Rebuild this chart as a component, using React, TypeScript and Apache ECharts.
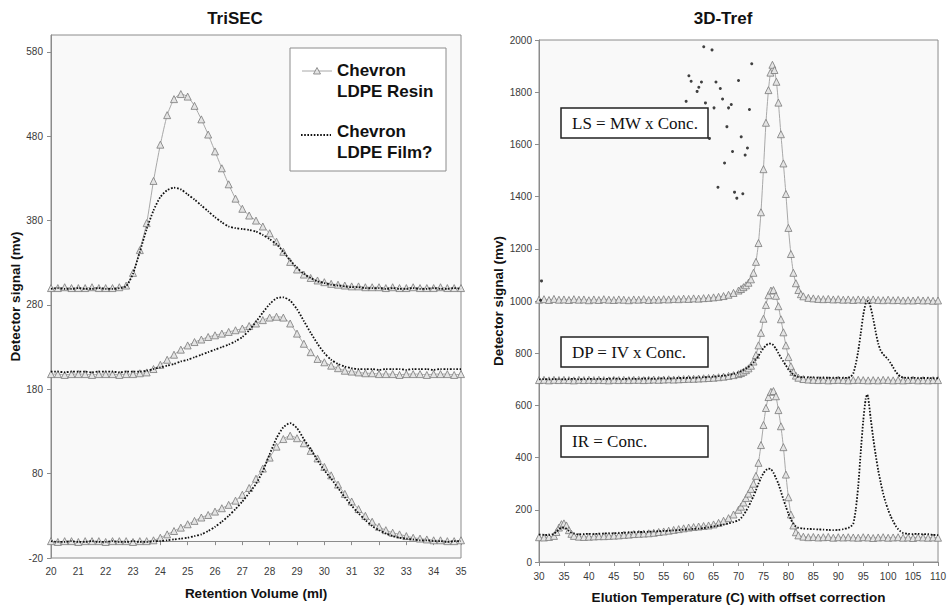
import React, { useEffect, useRef } from 'react';
import * as echarts from 'echarts';

// ---------- TriSEC (left) ----------
const secX = [20, 20.25, 20.5, 20.75, 21, 21.25, 21.5, 21.75, 22, 22.25, 22.5, 22.75, 23, 23.25, 23.5, 23.75, 24, 24.25, 24.5, 24.75, 25, 25.25, 25.5, 25.75, 26, 26.25, 26.5, 26.75, 27, 27.25, 27.5, 27.75, 28, 28.25, 28.5, 28.75, 29, 29.25, 29.5, 29.75, 30, 30.25, 30.5, 30.75, 31, 31.25, 31.5, 31.75, 32, 32.25, 32.5, 32.75, 33, 33.25, 33.5, 33.75, 34, 34.25, 34.5, 34.75, 35];

const resinTop = [300, 300, 301, 300, 300, 300, 301, 300, 300, 300, 301, 303, 318, 345, 377, 427, 470, 505, 524, 530, 527, 516, 500, 482, 462, 442, 423, 406, 394, 386, 380, 373, 365, 355, 343, 331, 322, 316, 312, 309, 307, 305, 304, 303, 302, 302, 301, 301, 301, 300, 301, 300, 300, 301, 300, 300, 300, 301, 300, 300, 300];
const filmTop = [299, 300, 299, 299, 300, 299, 299, 300, 299, 299, 300, 302, 317, 343, 370, 392, 408, 416, 419, 417, 411, 405, 398, 391, 384, 378, 373, 371, 370, 369, 367, 363, 358, 352, 343, 333, 324, 317, 312, 308, 306, 304, 303, 302, 301, 301, 300, 300, 300, 299, 300, 299, 299, 300, 299, 299, 300, 299, 299, 300, 299];
const resinMid = [198, 198, 197, 198, 198, 198, 197, 198, 198, 198, 197, 198, 198, 199, 200, 204, 209, 215, 221, 227, 232, 236, 239, 242, 244, 246, 248, 250, 252, 255, 258, 262, 265, 266, 265, 258, 246, 234, 224, 216, 212, 208, 205, 202, 201, 200, 199, 199, 198, 198, 198, 197, 198, 198, 198, 197, 198, 198, 198, 197, 198];
const filmMid = [201, 201, 200, 201, 201, 201, 200, 201, 201, 201, 200, 201, 201, 201, 202, 204, 206, 208, 210, 213, 215, 218, 221, 224, 227, 230, 233, 237, 242, 250, 260, 271, 281, 288, 289, 285, 275, 261, 247, 234, 223, 215, 210, 207, 205, 204, 204, 204, 203, 204, 204, 204, 203, 204, 204, 204, 203, 204, 204, 204, 204];
const resinBot = [0, -1, 0, 0, -1, 0, 0, 0, -1, 0, 0, 0, -1, 0, 0, 1, 4, 8, 12, 16, 20, 24, 28, 31, 35, 39, 43, 48, 55, 63, 74, 86, 99, 112, 121, 125, 122, 116, 107, 98, 88, 78, 67, 56, 47, 38, 30, 23, 17, 13, 10, 8, 6, 4, 3, 2, 1, 1, 0, 0, 1];
const filmBot = [0, -1, -1, 0, -1, -1, 0, -1, -1, 0, -1, -1, 0, -1, -1, 0, 0, 1, 2, 3, 4, 6, 8, 12, 17, 23, 30, 38, 47, 57, 68, 83, 103, 122, 135, 140, 134, 121, 109, 96, 84, 74, 63, 52, 42, 33, 25, 18, 13, 9, 6, 4, 3, 2, 1, 1, 0, 0, -1, 0, 0];

const leftYTicks = [-20, 80, 180, 280, 380, 480, 580];

// ---------- 3D-Tref (right) ----------
const lsResin = [[30,1005],[31,1007],[32,1004],[33,1008],[34,1005],[35,1006],[36,1004],[37,1007],[38,1005],[39,1006],[40,1003],[41,1006],[42,1004],[43,1007],[44,1005],[45,1004],[46,1006],[47,1005],[48,1003],[49,1006],[50,1005],[51,1007],[52,1004],[53,1006],[54,1005],[55,1007],[56,1006],[57,1008],[58,1007],[59,1009],[60,1008],[61,1010],[62,1009],[63,1011],[64,1012],[65,1014],[66,1016],[67,1019],[68,1024],[69,1031],[70,1040],[70.5,1046],[71,1053],[71.5,1060],[72,1070],[72.5,1083],[73,1108],[73.5,1150],[74,1222],[74.5,1340],[75,1505],[75.5,1683],[76,1808],[76.4,1875],[76.8,1905],[77.2,1885],[77.6,1840],[78,1760],[78.5,1639],[79,1527],[79.5,1410],[80,1280],[80.5,1180],[81,1108],[81.5,1068],[82,1042],[82.5,1026],[83,1018],[84,1012],[85,1010],[86,1008],[87,1007],[88,1008],[89,1006],[90,1007],[91,1005],[92,1006],[93,1004],[94,1006],[95,1005],[96,1004],[97,1006],[98,1004],[99,1003],[100,1005],[101,1003],[102,1004],[103,1002],[104,1003],[105,1002],[106,1004],[107,1002],[108,1003],[109,1001],[110,1002]];

const dpResin = [[30,697],[31,698],[32,696],[33,698],[34,697],[35,698],[36,697],[37,696],[38,698],[39,697],[40,698],[41,697],[42,698],[43,697],[44,696],[45,698],[46,697],[47,698],[48,697],[49,698],[50,698],[51,697],[52,698],[53,699],[54,698],[55,699],[56,700],[57,699],[58,700],[59,701],[60,702],[61,702],[62,703],[63,704],[64,705],[65,706],[66,708],[67,710],[68,713],[69,716],[70,720],[70.5,724],[71,729],[71.5,735],[72,742],[72.5,752],[73,768],[73.5,793],[74,830],[74.5,878],[75,932],[75.5,985],[76,1022],[76.5,1040],[77,1042],[77.5,1020],[78,980],[78.5,930],[79,880],[79.5,830],[80,785],[80.5,750],[81,728],[81.5,714],[82,706],[83,701],[84,699],[85,698],[86,697],[87,698],[88,696],[89,697],[90,698],[91,697],[92,696],[93,697],[94,698],[95,697],[96,696],[97,697],[98,696],[99,698],[100,697],[101,696],[102,697],[103,696],[104,697],[105,698],[106,696],[107,697],[108,696],[109,697],[110,697]];

const irResin = [[30,95],[31,94],[32,96],[33,100],[33.5,115],[34,132],[34.5,145],[35,148],[35.5,140],[36,122],[36.5,108],[37,100],[38,97],[39,96],[40,97],[41,98],[42,99],[43,99],[44,100],[45,101],[46,102],[47,104],[48,105],[49,107],[50,108],[51,109],[52,110],[53,112],[54,115],[55,117],[56,120],[57,123],[58,126],[59,129],[60,132],[61,134],[62,136],[63,138],[64,140],[65,144],[66,150],[67,158],[68,168],[69,182],[70,200],[70.5,212],[71,228],[71.5,245],[72,262],[72.5,280],[73,300],[73.5,330],[74,380],[74.5,448],[75,525],[75.5,590],[76,632],[76.5,652],[77,655],[77.5,635],[78,582],[78.5,520],[79,440],[79.5,335],[80,248],[80.5,182],[81,140],[81.5,114],[82,102],[83,97],[84,95],[85,96],[86,94],[87,95],[88,96],[89,93],[90,95],[91,94],[92,95],[93,94],[94,93],[95,95],[96,94],[97,92],[98,94],[99,95],[100,93],[101,94],[102,95],[103,93],[104,94],[105,92],[106,95],[107,94],[108,93],[109,94],[110,93]];

const dpFilm = [[30,700],[31,701],[32,700],[33,701],[34,701],[35,700],[36,701],[37,702],[38,700],[39,701],[40,702],[41,701],[42,702],[43,701],[44,702],[45,703],[46,702],[47,701],[48,703],[49,702],[50,702],[51,703],[52,703],[53,702],[54,703],[55,704],[56,703],[57,704],[58,705],[59,705],[60,706],[61,706],[62,707],[63,708],[64,709],[65,710],[66,712],[67,714],[68,717],[69,721],[70,727],[70.5,731],[71,736],[71.5,741],[72,747],[72.5,755],[73,764],[73.5,776],[74,790],[74.5,805],[75,819],[75.5,830],[76,836],[76.5,837],[77,831],[77.5,817],[78,800],[78.5,783],[79,768],[79.5,753],[80,739],[80.5,727],[81,718],[81.5,712],[82,709],[83,708],[84,707],[85,707],[86,706],[87,706],[88,706],[89,705],[90,706],[91,705],[92,706],[92.5,710],[93,722],[93.5,758],[94,808],[94.5,875],[95,945],[95.5,990],[96,1000],[96.5,975],[97,932],[97.5,882],[98,838],[98.5,810],[99,796],[99.5,786],[100,776],[100.5,762],[101,746],[101.5,730],[102,718],[102.5,710],[103,707],[104,705],[105,706],[106,704],[107,705],[108,705],[109,704],[110,704]];

const irFilm = [[30,105],[31,104],[32,103],[33,108],[33.5,116],[34,125],[34.5,131],[35,132],[35.5,127],[36,119],[36.5,112],[37,109],[38,106],[39,107],[40,108],[41,107],[42,108],[43,109],[44,110],[45,110],[46,111],[47,112],[48,113],[49,114],[50,115],[51,115],[52,116],[53,117],[54,118],[55,119],[56,120],[57,121],[58,122],[59,124],[60,125],[61,127],[62,128],[63,130],[64,133],[65,136],[66,140],[67,143],[68,148],[69,153],[70,160],[70.5,168],[71,180],[71.5,195],[72,212],[72.5,232],[73,252],[73.5,275],[74,300],[74.5,322],[75,340],[75.5,352],[76,358],[76.5,356],[77,342],[77.5,322],[78,300],[78.5,270],[79,240],[79.5,212],[80,185],[80.5,163],[81,146],[81.5,136],[82,131],[83,128],[84,127],[85,126],[86,125],[87,124],[88,123],[89,122],[90,123],[91,126],[92,131],[92.5,136],[93,146],[93.5,200],[94,290],[94.5,420],[95,540],[95.5,625],[95.8,642],[96,630],[96.5,550],[97,475],[97.5,410],[98,352],[98.5,305],[99,262],[99.5,228],[100,200],[100.5,176],[101,156],[101.5,139],[102,126],[102.5,117],[103,111],[104,108],[105,107],[106,108],[107,106],[108,107],[109,104],[110,103]];

const lsFilmScatter = [[30.3,1003],[30.5,1077],[63.03,1974],[64.69,1962],[72.65,1909],[60.05,1863],[60.5,1842],[62.57,1839],[65.48,1839],[70.0,1845],[62.04,1819],[61.7,1803],[66.35,1814],[59.5,1765],[63.37,1759],[66.8,1774],[65.09,1740],[68.0,1740],[68.55,1753],[72.19,1734],[67.67,1668],[64.17,1623],[70.54,1629],[71.79,1586],[68.8,1573],[71.33,1559],[67.2,1529],[65.88,1436],[69.2,1417],[70.86,1411],[69.66,1394]];

const SANS = '"Liberation Sans", Arial, Helvetica, sans-serif';
const SERIF = '"Liberation Serif", "Times New Roman", serif';

const resinStyle = {
  type: 'line' as const,
  symbol: 'triangle',
  symbolSize: 7,
  showSymbol: true,
  showAllSymbol: true,
  smooth: 0.2,
  lineStyle: { color: '#a8a8a8', width: 1 },
  itemStyle: { color: '#e4e4e4', borderColor: '#7a7a7a', borderWidth: 0.8 },
  z: 2,
};
const filmStyle = {
  type: 'line' as const,
  symbol: 'none',
  showSymbol: false,
  smooth: 0.2,
  lineStyle: { color: '#111', width: 1.8, type: [1.6, 1.6] as number[] },
  z: 3,
};

function zip(xs: number[], ys: number[]) {
  return xs.map((x, i) => [x, ys[i]]);
}

const axisCommon = {
  axisLine: { show: true, lineStyle: { color: '#8c8c8c', width: 1 } },
  axisTick: { show: true, length: 4, lineStyle: { color: '#8c8c8c' } },
  splitLine: { show: false },
};
const plain = (v: number) => String(v);
const labelCommon = { fontSize: 10, color: '#3a3a3a', fontFamily: SANS, formatter: plain };
const nameStyle = { fontSize: 13.5, fontWeight: 'bold' as const, color: '#111', fontFamily: SANS };

export default function App() {
  const ref = useRef<HTMLDivElement>(null);
  useEffect(() => {
    if (!ref.current) return;
    const chart = echarts.init(ref.current, undefined, { renderer: 'svg' });
    const option: any = {
      animation: false,
      backgroundColor: '#ffffff',
      grid: [
        { left: 51, top: 35, width: 410, height: 523, show: true, backgroundColor: '#f9f9f9', borderColor: '#8c8c8c', borderWidth: 1 },
        { left: 539, top: 40, width: 402, height: 526, show: true, backgroundColor: '#f9f9f9', borderColor: '#8c8c8c', borderWidth: 1 },
      ],
      xAxis: [
        {
          gridIndex: 0, type: 'value', min: 20, max: 35, interval: 1,
          name: 'Retention Volume (ml)', nameLocation: 'middle', nameGap: 28, nameTextStyle: nameStyle,
          ...axisCommon, axisLabel: { ...labelCommon, margin: 8 },
        },
        {
          gridIndex: 1, type: 'value', min: 30, max: 110, interval: 5,
          name: 'Elution Temperature (C) with offset correction', nameLocation: 'middle', nameGap: 28, nameTextStyle: nameStyle,
          ...axisCommon, axisLabel: { ...labelCommon, margin: 9 },
        },
      ],
      yAxis: [
        {
          gridIndex: 0, type: 'value', min: -20, max: 600,
          name: 'Detector signal (mv)', nameLocation: 'middle', nameGap: 29, nameTextStyle: nameStyle,
          ...axisCommon,
          axisTick: { ...axisCommon.axisTick, customValues: leftYTicks },
          axisLabel: { ...labelCommon, margin: 8, customValues: leftYTicks },
        },
        {
          gridIndex: 1, type: 'value', min: 0, max: 2000, interval: 200,
          name: 'Detector signal (mv)', nameLocation: 'middle', nameGap: 34, nameTextStyle: nameStyle,
          ...axisCommon, axisLabel: { ...labelCommon, margin: 7 },
        },
      ],
      series: [
        { ...resinStyle, name: 'Chevron LDPE Resin', xAxisIndex: 0, yAxisIndex: 0, data: zip(secX, resinTop) },
        { ...resinStyle, name: 'Chevron LDPE Resin', xAxisIndex: 0, yAxisIndex: 0, data: zip(secX, resinMid) },
        { ...resinStyle, name: 'Chevron LDPE Resin', xAxisIndex: 0, yAxisIndex: 0, data: zip(secX, resinBot) },
        { ...filmStyle, name: 'Chevron LDPE Film?', xAxisIndex: 0, yAxisIndex: 0, data: zip(secX, filmTop) },
        { ...filmStyle, name: 'Chevron LDPE Film?', xAxisIndex: 0, yAxisIndex: 0, data: zip(secX, filmMid) },
        { ...filmStyle, name: 'Chevron LDPE Film?', xAxisIndex: 0, yAxisIndex: 0, data: zip(secX, filmBot) },
        { ...resinStyle, name: 'LS resin', xAxisIndex: 1, yAxisIndex: 1, data: lsResin },
        { ...resinStyle, name: 'DP resin', xAxisIndex: 1, yAxisIndex: 1, data: dpResin },
        { ...resinStyle, name: 'IR resin', xAxisIndex: 1, yAxisIndex: 1, data: irResin },
        { ...filmStyle, name: 'DP film', xAxisIndex: 1, yAxisIndex: 1, data: dpFilm },
        { ...filmStyle, name: 'IR film', xAxisIndex: 1, yAxisIndex: 1, data: irFilm },
        {
          type: 'scatter', name: 'LS film', xAxisIndex: 1, yAxisIndex: 1, data: lsFilmScatter,
          symbol: 'circle', symbolSize: 3, itemStyle: { color: '#111' }, z: 3,
        },
      ],
      graphic: [
        { type: 'text', z: 100, x: 235, y: 18, style: { text: 'TriSEC', font: `bold 17px ${SANS}`, fill: '#111', textAlign: 'center', textVerticalAlign: 'middle' } },
        { type: 'text', z: 100, x: 723, y: 18, style: { text: '3D-Tref', font: `bold 17px ${SANS}`, fill: '#111', textAlign: 'center', textVerticalAlign: 'middle' } },
        // legend box (left panel)
        { type: 'rect', z: 100, shape: { x: 290, y: 48, width: 156, height: 123 }, style: { fill: '#fff', stroke: '#8c8c8c', lineWidth: 1 } },
        { type: 'line', z: 101, shape: { x1: 302, y1: 71, x2: 332, y2: 71 }, style: { stroke: '#a8a8a8', lineWidth: 1 } },
        { type: 'polygon', z: 102, shape: { points: [[317, 67.5], [313.5, 74], [320.5, 74]] }, style: { fill: '#e4e4e4', stroke: '#7a7a7a', lineWidth: 0.8 } },
        { type: 'text', z: 101, x: 337, y: 70.5, style: { text: 'Chevron', font: `bold 17px ${SANS}`, fill: '#111', textVerticalAlign: 'middle' } },
        { type: 'text', z: 101, x: 337, y: 91.5, style: { text: 'LDPE Resin', font: `bold 17px ${SANS}`, fill: '#111', textVerticalAlign: 'middle' } },
        { type: 'line', z: 101, shape: { x1: 301, y1: 135, x2: 331, y2: 135 }, style: { stroke: '#111', lineWidth: 1.8, lineDash: [1.6, 1.6] } },
        { type: 'text', z: 101, x: 337, y: 131.5, style: { text: 'Chevron', font: `bold 17px ${SANS}`, fill: '#111', textVerticalAlign: 'middle' } },
        { type: 'text', z: 101, x: 337, y: 152.5, style: { text: 'LDPE Film?', font: `bold 17px ${SANS}`, fill: '#111', textVerticalAlign: 'middle' } },
        // right panel annotation boxes
        { type: 'rect', z: 100, shape: { x: 561, y: 108, width: 147, height: 30 }, style: { fill: '#fff', stroke: '#222', lineWidth: 1.5 } },
        { type: 'text', z: 101, x: 572, y: 123, style: { text: 'LS = MW x Conc.', font: `17px ${SERIF}`, fill: '#111', textVerticalAlign: 'middle' } },
        { type: 'rect', z: 100, shape: { x: 561, y: 337, width: 147, height: 30 }, style: { fill: '#fff', stroke: '#222', lineWidth: 1.5 } },
        { type: 'text', z: 101, x: 572, y: 352, style: { text: 'DP = IV x Conc.', font: `17px ${SERIF}`, fill: '#111', textVerticalAlign: 'middle' } },
        { type: 'rect', z: 100, shape: { x: 561, y: 426, width: 147, height: 31 }, style: { fill: '#fff', stroke: '#222', lineWidth: 1.5 } },
        { type: 'text', z: 101, x: 572, y: 441.5, style: { text: 'IR = Conc.', font: `17px ${SERIF}`, fill: '#111', textVerticalAlign: 'middle' } },
      ],
    };
    chart.setOption(option);
    return () => chart.dispose();
  }, []);
  return <div ref={ref} style={{ position: 'fixed', left: 0, top: 0, width: 949, height: 609 }} />;
}
